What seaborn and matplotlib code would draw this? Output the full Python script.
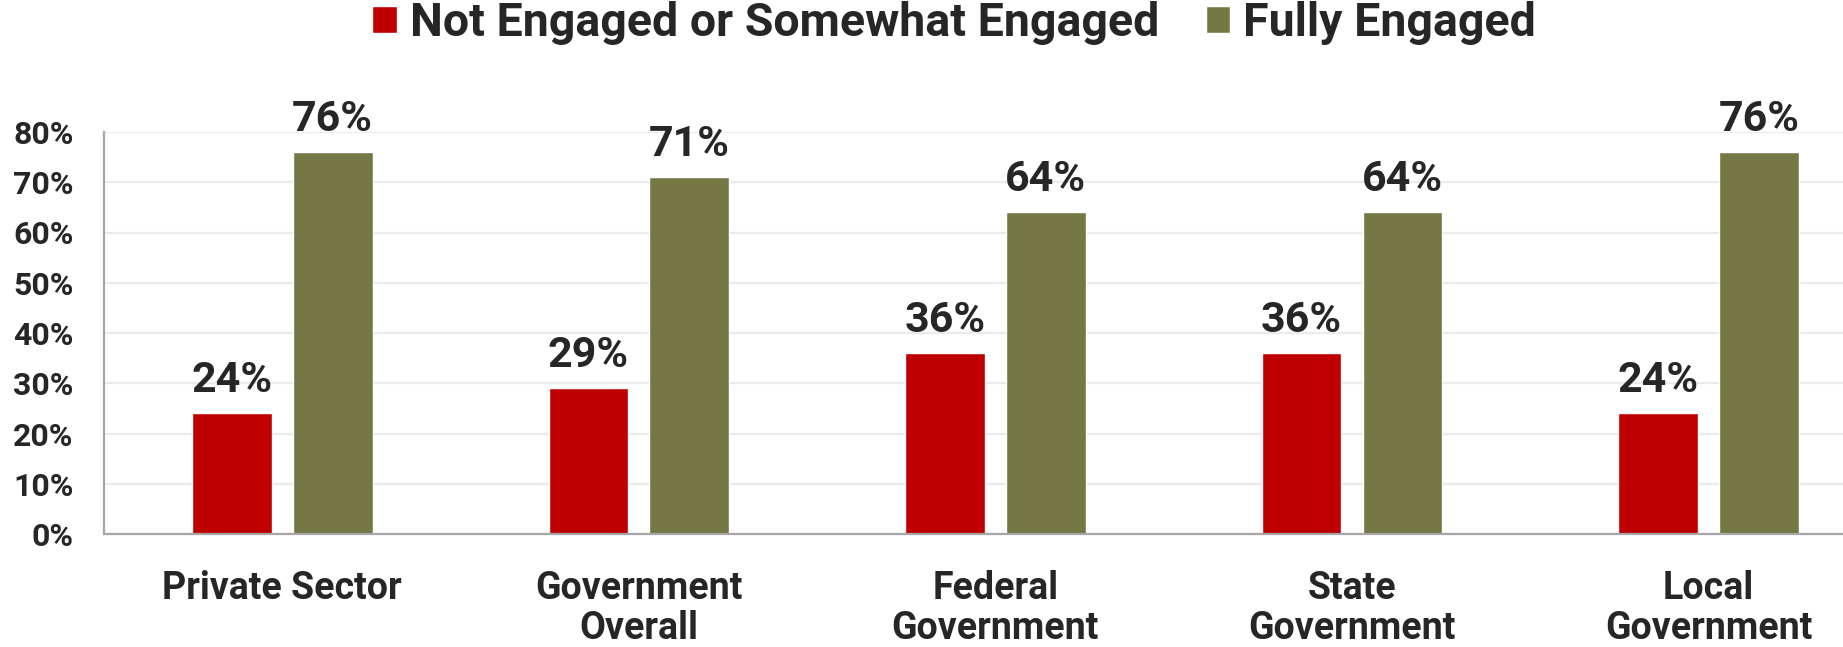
import matplotlib
matplotlib.use("Agg")
import matplotlib.pyplot as plt
import seaborn as sns
import pandas as pd
from matplotlib.ticker import PercentFormatter

categories = ["Private Sector", "Government\nOverall", "Federal\nGovernment",
              "State\nGovernment", "Local\nGovernment"]
series_names = ["Not Engaged or Somewhat Engaged", "Fully Engaged"]
not_engaged = [0.24, 0.29, 0.36, 0.36, 0.24]
fully_engaged = [0.76, 0.71, 0.64, 0.64, 0.76]
colors = ["#C00000", "#757845"]

df = pd.DataFrame({
    "category": categories * 2,
    "series": [series_names[0]] * len(categories) + [series_names[1]] * len(categories),
    "value": not_engaged + fully_engaged,
})

sns.set_theme(style="white")
FONT = ["Roboto", "DejaVu Sans"]
plt.rcParams["font.family"] = FONT
plt.rcParams["font.weight"] = "bold"
TXT = "#262626"

W, H = 1843, 647
fig = plt.figure(figsize=(W / 100, H / 100), dpi=100)
ax = fig.add_axes([104 / W, 1 - 534 / H, (W - 104) / W, (534 - 132) / H])

sns.barplot(data=df, x="category", y="value", hue="series", order=categories,
            hue_order=series_names, palette=colors, width=0.566, gap=0.21,
            saturation=1, ax=ax, legend=True)

ax.set_xlim(-0.5, 4.377)
ax.set_ylim(0, 0.8)
ax.yaxis.set_major_formatter(PercentFormatter(1.0, decimals=0))
ax.set_yticks([i / 10 for i in range(9)])
ax.grid(axis="y", color="#EBEBEB", linewidth=1.6)
ax.set_axisbelow(True)
ax.set_xlabel("")
ax.set_ylabel("")
for s in ["top", "right"]:
    ax.spines[s].set_visible(False)
for s in ["left", "bottom"]:
    ax.spines[s].set_color("#A6A6A6")
    ax.spines[s].set_linewidth(1.6)
ax.tick_params(axis="y", length=0, pad=22, labelsize=23, labelcolor=TXT)
ax.tick_params(axis="x", length=0, pad=26, labelsize=27, labelcolor=TXT)
for lab in ax.get_xticklabels() + ax.get_yticklabels():
    lab.set_fontweight("bold")
for lab in ax.get_xticklabels():
    lab.set_linespacing(1.1)

for cont in ax.containers:
    ax.bar_label(cont, labels=[f"{v*100:.0f}%" for v in cont.datavalues],
                 padding=9, fontsize=31, fontweight="bold", color=TXT)

leg = ax.get_legend()
leg.remove()
fig.legend(handles=leg.legend_handles, labels=series_names, loc="center",
           bbox_to_anchor=(954 / W, 1 - 23 / H), ncol=2, frameon=False,
           prop={"size": 33.5, "weight": "bold", "family": FONT},
           handlelength=0.52, handleheight=0.52, handletextpad=0.28, columnspacing=1.0,
           labelcolor=TXT)

fig.savefig("out.png", dpi=100)
